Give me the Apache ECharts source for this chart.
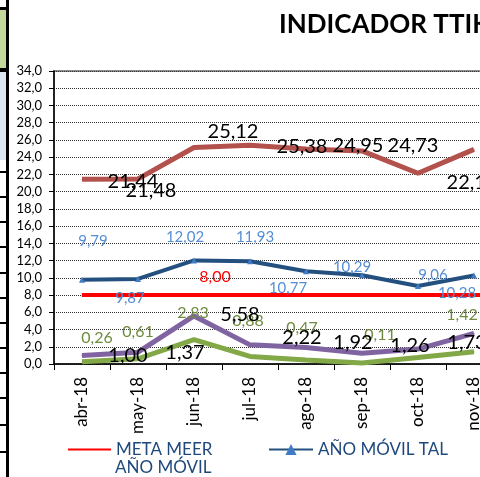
<!DOCTYPE html>
<html><head><meta charset="utf-8">
<script src="https://cdn.jsdelivr.net/npm/echarts@6/dist/echarts.min.js"></script>
<style>html,body{margin:0;padding:0;background:#fff;overflow:hidden}#c{width:480px;height:477px}</style>
</head><body><div id="c"></div>
<script>
// ---- data ----
const categories = ['abr-18','may-18','jun-18','jul-18','ago-18','sep-18','oct-18','nov-18','dic-18'];
const metaMeer    = [8.00, 8.00, 8.00, 8.00, 8.00, 8.00, 8.00, 8.00, 8.00];
const anoMovilTal = [9.79, 9.87, 12.02, 11.93, 10.77, 10.29, 9.06, 10.28, null];
const serieMarron = [21.44, 21.48, 25.12, 25.38, 24.95, 24.73, 22.14, 24.90, null];
const serieVerde  = [0.26, 0.61, 2.83, 0.88, 0.47, 0.11, 0.75, 1.42, null];
const serieMorada = [1.00, 1.37, 5.58, 2.22, 1.92, 1.26, 1.73, 3.55, null];
const yMin = 0, yMax = 34, yStep = 2;

// label placement (pixel offsets of each value label from its point)
const offMarron = [[51,2],[13,12],[39,-16],[52,1],[52,-3],[51,-5],[54,9],[52,0],[0,0]];
const offMorada = [[46,0],[47,0],[46,-1],[52,-7],[47,-5],[48,-8],[49,-7],[48,-5],[0,0]];
const offVerde  = [[15,-24],[0,-27],[-1,-27],[-2,-36],[-4,-32],[18,-28],null,[-12,-37],[0,0]];
const offAzul   = [[11,-38],[-8,19],[-9,-23],[5,-24],[-18,17],[-10,-8],[15,-11],[-17,18],[0,0]];

const FONT = 'Lato, "Open Sans", sans-serif';
const fmt = v => (v == null ? '' : Number(v).toFixed(2).replace('.', ','));

function withLabels(vals, offs) {
  return vals.map((v, i) => {
    const o = offs[i];
    if (v == null) return null;
    if (o == null) return { value: v, label: { show: false } };
    return { value: v, label: { offset: o } };
  });
}

const chart = echarts.init(document.getElementById('c'), null, { renderer: 'canvas' });

const gridLeft = 54, gridTop = 71, gridH = 293, catW = 56;

// fragment of the neighbouring table at the left edge
const tableRows = [172, 197, 222, 247, 273, 298, 323, 348, 373, 398, 425, 452];
const tableGraphic = [
  { type: 'rect', shape: { x: 0, y: 10, width: 6, height: 58 }, style: { fill: '#C4D79B' } },
  { type: 'rect', shape: { x: 0, y: 72, width: 6, height: 88 }, style: { fill: '#DCE6F1' } },
  { type: 'rect', shape: { x: 6, y: 0, width: 3, height: 477 }, style: { fill: '#000' } },
  { type: 'rect', shape: { x: 0, y: 7, width: 9, height: 3 }, style: { fill: '#000' } },
  { type: 'rect', shape: { x: 0, y: 68, width: 9, height: 4 }, style: { fill: '#000' } }
].concat(tableRows.map(y => ({ type: 'rect', shape: { x: 0, y: y - 1, width: 9, height: 2 }, style: { fill: '#000' } })));

chart.setOption({
  animation: false,
  backgroundColor: '#ffffff',
  title: {
    text: 'INDICADOR TTIK',
    left: 279, top: 12, padding: 0,
    textStyle: { fontFamily: FONT, fontWeight: 'bold', fontSize: 26, color: '#000' }
  },
  legend: [
    {
      data: ['META MEER AÑO MÓVIL'],
      left: 67, top: 441, padding: 0, itemWidth: 43, itemHeight: 14,
      itemStyle: { opacity: 0 },
      formatter: () => 'META MEER',
      textStyle: { fontFamily: FONT, fontSize: 17, color: '#1F497D' }
    },
    {
      data: ['AÑO MÓVIL TAL'],
      left: 268, top: 441, padding: 0, itemWidth: 44, itemHeight: 14,
      textStyle: { fontFamily: FONT, fontSize: 17, color: '#1F497D' }
    }
  ],
  graphic: tableGraphic.concat([
    { type: 'text', left: 115, top: 459, style: { text: 'AÑO MÓVIL', font: '17px ' + FONT, fill: '#1F497D' } }
  ]),
  grid: {
    left: gridLeft, top: gridTop, width: catW * categories.length, height: gridH,
    outerBoundsMode: 'none', containLabel: false,
    show: true, borderColor: '#8C8C8C', borderWidth: 2, backgroundColor: 'transparent'
  },
  xAxis: {
    type: 'category', data: categories, boundaryGap: true,
    axisLine: { lineStyle: { color: '#000', width: 1.5 } },
    axisTick: { show: true, alignWithLabel: false, length: 6, lineStyle: { color: '#000', width: 1 } },
    axisLabel: { rotate: 90, margin: 13, fontFamily: FONT, fontSize: 17, color: '#000' },
    splitLine: { show: false }
  },
  yAxis: {
    type: 'value', min: yMin, max: yMax, interval: yStep,
    axisLine: { show: true, lineStyle: { color: '#000', width: 1.5 } },
    axisTick: { show: true, length: 5, lineStyle: { color: '#000' } },
    axisLabel: { margin: 12, fontFamily: FONT, fontSize: 13, color: '#000',
      formatter: v => v.toFixed(1).replace('.', ',') },
    splitLine: { show: true, lineStyle: { color: '#333', type: [1, 1], width: 1 } }
  },
  series: [
    {
      name: 'META MEER AÑO MÓVIL', type: 'line', data: metaMeer.map((v, i) => i === 2 ? { value: v, label: { show: true, offset: [21, -18] } } : v),
      symbol: 'circle', symbolSize: 1, itemStyle: { color: '#FF0000' },
      lineStyle: { color: '#FF0000', width: 4 },
      label: { show: false, position: 'inside', formatter: p => fmt(p.value), color: '#FF0000', fontFamily: FONT, fontSize: 16 },
      z: 3
    },
    {
      name: 'AÑO MÓVIL TAL', type: 'line', data: withLabels(anoMovilTal, offAzul),
      symbol: 'triangle', symbolSize: 6, itemStyle: { color: '#3F7CC4' },
      lineStyle: { color: '#24507F', width: 4 },
      label: { show: true, position: 'inside', formatter: p => fmt(p.value), color: '#558ED5', fontFamily: FONT, fontSize: 15 },
      z: 4
    },
    {
      name: 'INDICADOR MARRÓN', type: 'line', data: withLabels(serieMarron, offMarron),
      symbol: 'circle', symbolSize: 1, itemStyle: { color: '#B3514D' },
      lineStyle: { color: '#B3514D', width: 5 },
      label: { show: true, position: 'inside', formatter: p => fmt(p.value), color: '#000', fontFamily: FONT, fontSize: 20 },
      z: 2
    },
    {
      name: 'INDICADOR VERDE', type: 'line', data: withLabels(serieVerde, offVerde),
      symbol: 'circle', symbolSize: 1, itemStyle: { color: '#82A847' },
      lineStyle: { color: '#82A847', width: 5 },
      label: { show: true, position: 'inside', formatter: p => fmt(p.value), color: '#6E8B3D', fontFamily: FONT, fontSize: 16 },
      z: 2
    },
    {
      name: 'INDICADOR MORADO', type: 'line', data: withLabels(serieMorada, offMorada),
      symbol: 'circle', symbolSize: 1, itemStyle: { color: '#8064A2' },
      lineStyle: { color: '#8064A2', width: 5 },
      label: { show: true, position: 'inside', formatter: p => fmt(p.value), color: '#000', fontFamily: FONT, fontSize: 20 },
      z: 2
    }
  ]
});
</script>
</body></html>
